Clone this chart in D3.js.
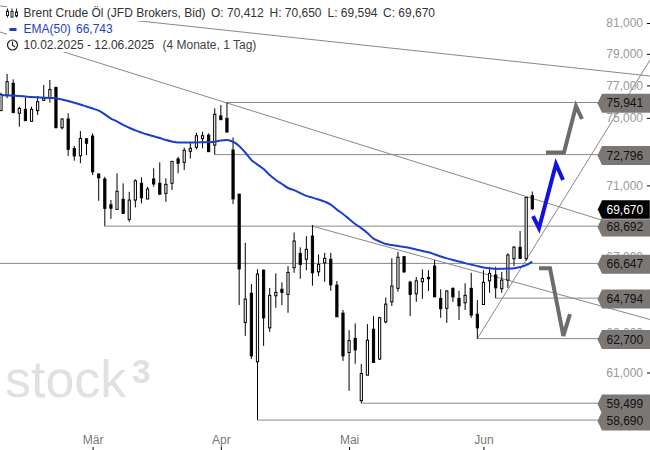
<!DOCTYPE html>
<html>

<head>
    <title>Brent Crude</title>
    <script src="https://d3js.org/d3.v7.min.js"></script>
    <style>
        html, body { margin: 0; padding: 0; background: #fff; }
        svg { display: block; font-family: "Liberation Sans", Arial, sans-serif; }
    </style>
</head>

<body>
    <svg width="650" height="450" id="mainsvg"></svg>
    <script>
        // candles, one entry per trading day (10.02.2025 - 12.06.2025)
        const opens = [75.44,76.40,77.13,75.28,75.52,74.79,75.44,76.07,76.23,76.88,74.40,74.93,73.15,72.73,73.74,73.90,71.66,71.37,69.89,69.63,70.20,69.07,70.16,71.12,70.22,71.37,71.12,70.54,71.12,72.54,72.34,72.99,73.23,73.74,73.96,73.36,75.12,74.97,73.07,70.50,63.53,65.05,61.53,66.28,63.25,64.92,65.26,64.99,66.41,67.19,66.87,68.14,66.19,66.68,66.87,65.48,64.01,62.00,62.71,59.62,60.87,63.18,61.67,63.56,64.60,65.31,67.01,65.64,65.02,65.66,65.89,66.50,64.78,64.26,65.31,64.78,64.55,65.31,63.95,64.46,65.71,66.02,65.29,65.75,66.90,67.52,66.90,70.412];
        const highs = [76.54,77.72,77.38,75.68,76.26,75.68,76.34,77.03,77.34,76.88,74.97,75.28,73.31,74.20,73.74,74.06,71.70,71.50,70.16,71.70,71.12,70.63,71.35,71.47,70.92,71.99,72.34,71.41,72.40,72.67,73.21,73.50,74.10,74.16,74.06,75.58,75.78,75.94,73.82,70.50,67.77,65.54,66.33,66.32,65.33,66.11,65.63,66.50,68.34,67.52,68.14,68.75,67.14,67.22,67.22,65.70,64.17,63.13,63.48,61.42,63.44,63.86,63.82,64.83,66.92,67.28,67.05,65.71,65.92,66.32,66.28,66.83,65.26,65.22,65.36,65.18,65.58,66.14,64.69,66.28,66.46,66.46,66.19,67.19,67.59,68.42,70.31,70.650];
        const lows = [75.44,76.21,75.32,74.46,74.83,74.79,75.18,76.07,75.93,74.40,74.30,72.72,72.44,72.29,72.77,71.60,70.12,68.69,69.10,69.63,69.37,68.93,69.74,69.97,70.22,70.92,70.45,70.06,70.73,71.70,71.89,72.56,73.11,73.17,72.97,72.80,74.89,74.14,69.93,64.43,62.84,61.67,58.69,62.33,63.04,64.29,64.43,64.03,66.14,65.82,66.28,65.45,65.96,65.66,65.18,63.82,61.58,60.10,61.43,59.50,60.87,61.48,61.62,63.48,64.38,65.13,66.14,63.86,64.60,64.76,65.17,64.86,63.77,63.51,64.60,63.65,64.17,63.77,62.70,64.43,65.08,64.79,65.08,65.34,66.50,66.90,66.79,69.594];
        const closes = [76.44,77.23,75.32,75.58,74.83,75.52,75.99,76.20,76.75,74.40,74.93,73.11,72.72,73.76,73.47,71.79,71.44,69.69,69.70,70.66,69.41,70.16,71.27,70.29,70.79,71.08,70.50,71.06,72.40,72.29,73.05,73.17,73.92,73.92,72.97,75.22,74.89,74.14,70.23,66.35,64.74,61.83,66.07,63.77,64.94,65.10,65.10,66.16,67.87,66.59,67.41,66.14,66.59,66.92,65.50,63.82,61.83,62.60,62.13,60.95,62.62,61.50,63.77,64.48,65.43,66.98,66.19,64.99,65.71,65.84,65.82,64.86,64.24,65.17,64.86,64.39,64.94,63.91,63.25,65.63,66.11,65.34,65.75,67.10,67.53,66.92,70.31,69.670];
        const ema50 = [76.40,76.38,76.36,76.34,76.31,76.28,76.26,76.24,76.22,76.20,76.13,76.03,75.93,75.82,75.69,75.57,75.44,75.21,74.96,74.78,74.57,74.40,74.24,74.11,73.99,73.89,73.78,73.66,73.57,73.52,73.52,73.52,73.52,73.53,73.54,73.56,73.64,73.66,73.56,73.31,72.92,72.48,72.21,71.95,71.60,71.31,71.08,70.85,70.73,70.56,70.40,70.30,70.19,70.07,69.90,69.62,69.37,69.09,68.81,68.58,68.31,68.00,67.84,67.70,67.65,67.59,67.54,67.48,67.40,67.32,67.25,67.14,67.02,66.92,66.83,66.75,66.66,66.58,66.50,66.43,66.39,66.35,66.36,66.37,66.39,66.45,66.55,66.743];

        // horizontal levels and the bar each one starts at
        const levels = [75.941,72.796,68.692,66.647,64.794,62.700,59.499,58.690];
        const levelStarts = [37,35,17,-0.2,81,78,59,42];
        const lastPrice = 69.670;

        // drawn lines as [bar, price]
        const trendLines = [
            [[-0.16,82.13],[106.27,77.59]],
            [[-0.16,80.41],[106.27,68.19]],
            [[51,68.69],[106.27,63.68]],
            [[78,62.70],[106.27,78.60]]
        ];
        const arrowUpGray = [[89.24,72.92],[92.19,72.92],[94.15,75.72],[95.14,74.93]];
        const arrowBlue = [[87.11,69.25],[88.10,68.58],[90.88,72.24],[92.03,71.31]];
        const arrowDownGray = [[88.10,66.39],[89.90,66.39],[92.08,62.84],[93.17,63.96]];

        const priceTicks = [81,79,77,75,73,71,69,67,65,63,61];
        const monthLabels = ['Mär','Apr','Mai','Jun'];
        const monthBars = [15,36,57,79];

        const svg = d3.select('svg');
        const x = d3.scaleLinear().domain([0, 87]).range([1, 532.3]);
        const y = d3.scaleLog().domain([81, 61]).range([23, 372.5]);
        const de = d3.formatLocale({decimal: ',', thousands: '.', grouping: [3], currency: ['', '€']});
        const fmt = de.format('.3f');
        const line = d3.line().x(d => x(d[0])).y(d => y(d[1]));

        const grayLine = '#888';
        const labelGray = '#7b7775';
        const arrowGray = '#6f6b69';

        // watermark
        const wm = svg.append('g').attr('fill', '#e1e1e1');
        wm.append('text').attr('x', 5).attr('y', 397)
            .attr('font-size', 52).text('stock');
        wm.append('text').attr('x', 132).attr('y', 383).attr('font-weight', 700)
            .attr('font-size', 33).text('3');

        // levels and trend lines
        svg.selectAll('.level').data(levels).join('line')
            .attr('class', 'level')
            .attr('x1', (d, i) => x(levelStarts[i]))
            .attr('x2', 598)
            .attr('y1', d => y(d)).attr('y2', d => y(d))
            .attr('stroke', grayLine).attr('stroke-width', 1);

        svg.selectAll('.trend').data(trendLines).join('path')
            .attr('class', 'trend')
            .attr('d', line)
            .attr('fill', 'none')
            .attr('stroke', grayLine).attr('stroke-width', 1);

        // candles
        const candles = closes.map((c, i) => ({i, o: opens[i], h: highs[i], l: lows[i], c}));
        const candleG = svg.append('g');
        candleG.selectAll('.wick').data(candles).join('line')
            .attr('class', 'wick')
            .attr('x1', d => x(d.i)).attr('x2', d => x(d.i))
            .attr('y1', d => y(d.h)).attr('y2', d => y(d.l))
            .attr('stroke', '#000').attr('stroke-width', 1);
        candleG.selectAll('.body').data(candles).join('rect')
            .attr('class', 'body')
            .attr('x', d => x(d.i) - 1.1)
            .attr('width', 2.2)
            .attr('y', d => y(Math.max(d.o, d.c)))
            .attr('height', d => Math.abs(y(d.o) - y(d.c)))
            .attr('fill', d => d.c > d.o ? '#fff' : '#000')
            .attr('stroke', '#000').attr('stroke-width', 1);

        // EMA and arrows
        svg.append('path')
            .attr('d', d3.line().x((d, i) => x(i)).y(d => y(d)).curve(d3.curveMonotoneX)(ema50))
            .attr('fill', 'none').attr('stroke', '#1c3fc9').attr('stroke-width', 2);

        const arrows = [[arrowUpGray, arrowGray], [arrowDownGray, arrowGray], [arrowBlue, '#1212e0']];
        svg.selectAll('.arrow').data(arrows).join('path')
            .attr('class', 'arrow')
            .attr('d', d => line(d[0]))
            .attr('fill', 'none')
            .attr('stroke', d => d[1])
            .attr('stroke-width', 4)
            .attr('stroke-linejoin', 'miter');

        // axes
        const yAxis = svg.append('g').attr('transform', 'translate(650,0)')
            .call(d3.axisLeft(y).tickValues(priceTicks).tickSize(3).tickPadding(4).tickFormat(fmt));
        yAxis.select('.domain').remove();
        yAxis.selectAll('text').attr('fill', '#999').attr('font-size', 12).attr('font-family', null);

        const xAxis = svg.append('g').attr('transform', 'translate(0,450)')
            .call(d3.axisTop(x).tickValues(monthBars).tickSize(3).tickPadding(3)
                .tickFormat(d => monthLabels[monthBars.indexOf(d)]));
        xAxis.select('.domain').remove();
        xAxis.selectAll('text').attr('fill', '#777').attr('font-size', 12).attr('font-family', null);

        // price labels on the right
        const tag = v => {
            const c = y(v) + 0.8;
            return `M597.5,${c}L602,${c - 9.5}H650V${c + 9.5}H602Z`;
        };
        const tags = svg.selectAll('.tag').data(levels).join('g').attr('class', 'tag');
        tags.append('path').attr('d', tag).attr('fill', labelGray);
        tags.append('text').attr('x', 606.5).attr('y', d => y(d) + 5)
            .attr('font-size', 12).attr('fill', '#111').text(fmt);

        const lastTag = svg.append('g');
        lastTag.append('path').attr('d', tag(lastPrice)).attr('fill', '#000').attr('stroke', '#fff').attr('stroke-width', 0.5);
        lastTag.append('text').attr('x', 606.5).attr('y', y(lastPrice) + 5)
            .attr('font-size', 12).attr('fill', '#fff').text(fmt(lastPrice));

        // header rows, white boxes hide the trend lines behind the text
        const boxes = [[7, 5, 430, 16], [7, 21, 106, 16], [7, 37, 249, 15]];
        svg.selectAll('.box').data(boxes).join('rect')
            .attr('class', 'box')
            .attr('x', d => d[0]).attr('y', d => d[1])
            .attr('width', d => d[2]).attr('height', d => d[3])
            .attr('fill', '#fff');

        const headerTexts = [
            ['Brent Crude Öl (JFD Brokers, Bid)', 23.5, 17, '#333'],
            ['O: ' + fmt(opens[87]), 211, 17, '#333'],
            ['H: ' + fmt(highs[87]), 269.5, 17, '#333'],
            ['L: ' + fmt(lows[87]), 327.5, 17, '#333'],
            ['C: ' + fmt(closes[87]), 383, 17, '#333'],
            ['EMA(50)', 23.5, 33.3, '#1c3fc9'],
            [fmt(ema50[87]), 76, 33.3, '#1c3fc9'],
            ['10.02.2025 - 12.06.2025', 23.5, 49, '#333'],
            ['(4 Monate, 1 Tag)', 162.5, 49, '#444']
        ];
        svg.selectAll('.head').data(headerTexts).join('text')
            .attr('class', 'head')
            .attr('x', d => d[1]).attr('y', d => d[2])
            .attr('fill', d => d[3]).attr('font-size', 12)
            .text(d => d[0]);

        // small icons in the header
        const icon = svg.append('g').attr('stroke', '#222').attr('fill', 'none');
        [[7.5, 10, 14.5, 8.5, 20.5], [12, 10.5, 16, 8.5, 20.5], [16.5, 11, 15, 8.5, 20.5]].forEach(c => {
            icon.append('line').attr('x1', c[0]).attr('x2', c[0]).attr('y1', c[3]).attr('y2', c[4] - 3);
            icon.append('rect').attr('x', c[0] - 1).attr('y', c[1] + 1).attr('width', 2).attr('height', c[2] - c[1]).attr('fill', '#fff');
        });
        svg.append('rect').attr('x', 9.5).attr('y', 28).attr('width', 7).attr('height', 3).attr('fill', '#1c3fc9');
        const clock = svg.append('g').attr('stroke', '#222').attr('fill', 'none').attr('stroke-width', 1.2);
        clock.append('circle').attr('cx', 12.5).attr('cy', 45).attr('r', 5);
        clock.append('path').attr('d', 'M12.5,41.5V45.3L15,47');
    </script>
</body>

</html>
